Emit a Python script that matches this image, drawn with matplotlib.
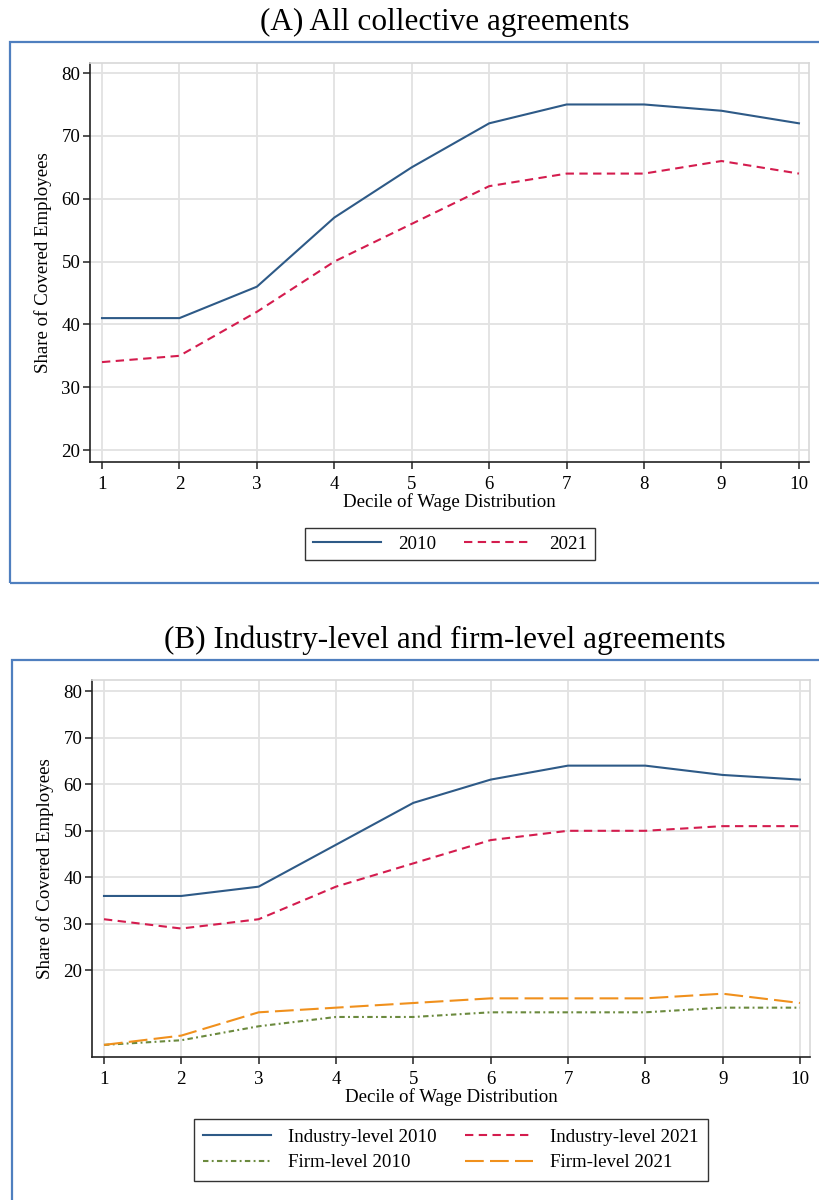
import matplotlib
matplotlib.use("Agg")
import matplotlib.pyplot as plt
from matplotlib.patches import Rectangle

plt.rcParams["font.family"] = ["Liberation Serif", "DejaVu Serif"]

deciles = [1, 2, 3, 4, 5, 6, 7, 8, 9, 10]

# panel A: all collective agreements
all_2010 = [41, 41, 46, 57, 65, 72, 75, 75, 74, 72]
all_2021 = [34, 35, 42, 50, 56, 62, 64, 64, 66, 64]

# panel B: industry-level and firm-level agreements
ind_2010 = [36, 36, 38, 47, 56, 61, 64, 64, 62, 61]
ind_2021 = [31, 29, 31, 38, 43, 48, 50, 50, 51, 51]
firm_2010 = [4, 5, 8, 10, 10, 11, 11, 11, 12, 12]
firm_2021 = [4, 6, 11, 12, 13, 14, 14, 14, 15, 13]

yticks = [20, 30, 40, 50, 60, 70, 80]

BLUE = "#2e5a87"
RED = "#d41c4e"
GREEN = "#6b8a3e"
ORANGE = "#f0901c"
FRAME = "#4f7fbf"
GRID = "#e2e2e2"
FS = 13.6

W, H = 819, 1200
fig = plt.figure(figsize=(W / 100, H / 100), dpi=100)
fig.patch.set_facecolor("white")


def px_axes(left, top, right, bottom):
    return fig.add_axes([left / W, 1 - bottom / H, (right - left) / W, (bottom - top) / H])


def style(ax, ylim):
    ax.set_xlim(0.845, 10.13)
    ax.set_ylim(*ylim)
    ax.set_xticks(deciles)
    ax.set_yticks(yticks)
    ax.grid(True, color=GRID, lw=1.3, zorder=0)
    ax.set_axisbelow(True)
    for s in ("top", "right"):
        ax.spines[s].set_color("#d8d8d8")
        ax.spines[s].set_linewidth(1.2)
    for s in ("left", "bottom"):
        ax.spines[s].set_color("#222222")
        ax.spines[s].set_linewidth(1.2)
    ax.tick_params(axis="both", direction="out", length=5, width=1.1,
                   colors="#222222", labelsize=FS, labelcolor="black")
    ax.tick_params(axis="y", pad=2)
    ax.tick_params(axis="x", pad=5)
    ax.set_xlabel("Decile of Wage Distribution", fontsize=FS, labelpad=0)
    ax.set_ylabel("Share of Covered Employees", fontsize=FS, labelpad=7)


# outer frames
fig.patches.append(Rectangle((10 / W, 1 - 583 / H), 830 / W, 541 / H,
                             transform=fig.transFigure, fill=False,
                             edgecolor=FRAME, lw=1.6))
fig.patches.append(Rectangle((12 / W, 1 - 1215 / H), 830 / W, 555 / H,
                             transform=fig.transFigure, fill=False,
                             edgecolor=FRAME, lw=1.6))

fig.text(445 / W, 1 - 22 / H, "(A) All collective agreements",
         ha="center", va="center", fontsize=22.5)
fig.text(445 / W, 1 - 640 / H, "(B) Industry-level and firm-level agreements",
         ha="center", va="center", fontsize=22.5)

# ---- panel A ----
axA = px_axes(90, 63, 809, 462)
style(axA, (18.1, 81.6))
lA1, = axA.plot(deciles, all_2010, color=BLUE, lw=1.5, label="2010")
lA2, = axA.plot(deciles, all_2021, color=RED, lw=1.5, dashes=(4, 2.6), label="2021")
fig.legend(handles=[lA1, lA2], loc="center", bbox_to_anchor=(450 / W, 1 - 544 / H),
           ncol=2, fontsize=FS, frameon=True, fancybox=False, edgecolor="black",
           handlelength=3.6, columnspacing=1.5, borderpad=0.4, handletextpad=0.9)

# ---- panel B ----
axB = px_axes(92, 680, 810, 1057)
style(axB, (1.4, 82.4))
lB1, = axB.plot(deciles, ind_2010, color=BLUE, lw=1.5, label="Industry-level 2010")
lB2, = axB.plot(deciles, ind_2021, color=RED, lw=1.5, dashes=(4, 2.6),
                label="Industry-level 2021")
lB3, = axB.plot(deciles, firm_2010, color=GREEN, lw=1.5, dashes=(2.6, 1.6, 0.9, 1.6),
                label="Firm-level 2010")
lB4, = axB.plot(deciles, firm_2021, color=ORANGE, lw=1.5, dashes=(9, 3),
                label="Firm-level 2021")
fig.legend(handles=[lB1, lB3, lB2, lB4], loc="center", bbox_to_anchor=(451 / W, 1 - 1150 / H),
           ncol=2, fontsize=FS, frameon=True, fancybox=False, edgecolor="black",
           handlelength=3.6, columnspacing=1.5, borderpad=0.5, handletextpad=0.9,
           labelspacing=0.45)

fig.savefig("out.png", dpi=100)
